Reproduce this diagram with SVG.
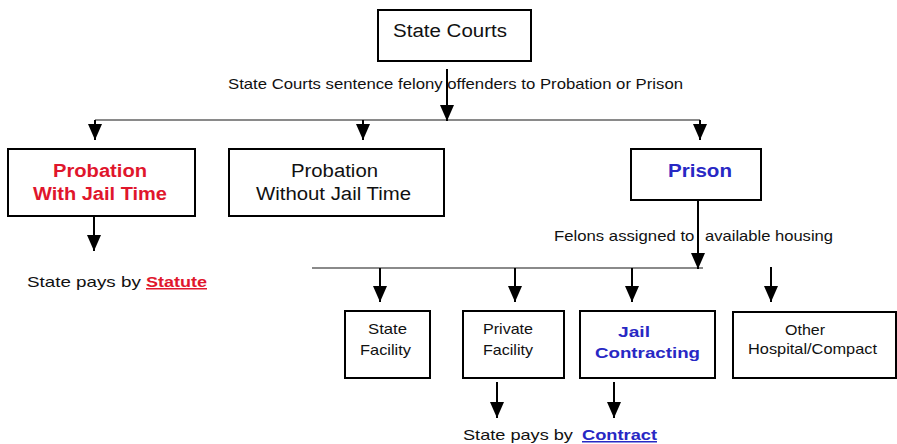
<svg xmlns="http://www.w3.org/2000/svg" width="897" height="444" viewBox="0 0 897 444">
<defs>
<marker id="ah" markerUnits="userSpaceOnUse" markerWidth="16" markerHeight="14" refX="16" refY="7" orient="auto">
<path d="M0,0 L16,7 L0,14 z" fill="#000"/>
</marker>
<style>
.box{fill:#fff;stroke:#000;stroke-width:2}
text{font-family:"Liberation Sans",Arial,sans-serif;fill:#111}
.t{font-size:15px}
.b{font-size:18px;font-weight:bold}
.m{font-size:18px}
.s{font-size:15px}
.red{fill:#e0162c}
.blue{fill:#2828c4}
.bus{stroke:#8a8a8a;stroke-width:2;fill:none}
.arr{stroke:#000;stroke-width:2;fill:none;marker-end:url(#ah)}
</style>
</defs>
<rect width="897" height="444" fill="#fff"/>
<g id="connectors">
<line class="bus" x1="95" y1="120" x2="700" y2="120"/>
<line class="arr" x1="447" y1="69" x2="447" y2="121"/>
<line class="arr" x1="95" y1="120" x2="95" y2="140"/>
<line class="arr" x1="363" y1="120" x2="363" y2="140"/>
<line class="arr" x1="700" y1="120" x2="700" y2="140"/>
<line class="arr" x1="94" y1="217" x2="94" y2="251"/>
<line class="bus" x1="312" y1="268" x2="703" y2="268"/>
<line class="arr" x1="698" y1="200" x2="698" y2="269"/>
<line class="arr" x1="380" y1="268" x2="380" y2="302"/>
<line class="arr" x1="515" y1="268" x2="515" y2="302"/>
<line class="arr" x1="632" y1="268" x2="632" y2="302"/>
<line class="arr" x1="771" y1="267" x2="771" y2="302"/>
<line class="arr" x1="497" y1="382" x2="497" y2="418"/>
<line class="arr" x1="614" y1="382" x2="614" y2="418"/>
<text class="t" x="228" y="89" textLength="455" lengthAdjust="spacingAndGlyphs">State Courts sentence felony offenders to Probation or Prison</text>
<text class="t" y="241"><tspan x="554" textLength="145" lengthAdjust="spacingAndGlyphs">Felons assigned to </tspan><tspan x="705" textLength="128" lengthAdjust="spacingAndGlyphs">available housing</tspan></text>
<text class="t" y="287"><tspan x="27" textLength="119" lengthAdjust="spacingAndGlyphs">State pays by </tspan><tspan x="146" textLength="61" lengthAdjust="spacingAndGlyphs" class="red" font-weight="bold" text-decoration="underline">Statute</tspan></text>
<text class="t" y="440"><tspan x="463" textLength="115" lengthAdjust="spacingAndGlyphs">State pays by </tspan><tspan x="582" textLength="75" lengthAdjust="spacingAndGlyphs" class="blue" font-weight="bold" text-decoration="underline">Contract</tspan></text>
</g>
<g id="state-courts">
<rect class="box" x="378" y="10" width="153" height="51"/>
<text class="m" font-size="19" x="393" y="37" textLength="114" lengthAdjust="spacingAndGlyphs">State Courts</text>
</g>
<g id="probation-with-jail">
<rect class="box" x="8" y="149" width="187" height="67"/>
<text class="b red" x="53" y="177" textLength="94" lengthAdjust="spacingAndGlyphs">Probation</text>
<text class="b red" x="33" y="200" textLength="134" lengthAdjust="spacingAndGlyphs">With Jail Time</text>
</g>
<g id="probation-without-jail">
<rect class="box" x="229" y="149" width="215" height="67"/>
<text class="m" x="291" y="177" textLength="87" lengthAdjust="spacingAndGlyphs">Probation</text>
<text class="m" x="256" y="200" textLength="155" lengthAdjust="spacingAndGlyphs">Without Jail Time</text>
</g>
<g id="prison">
<rect class="box" x="631" y="149" width="130" height="51"/>
<text class="b blue" x="668" y="177" textLength="64" lengthAdjust="spacingAndGlyphs">Prison</text>
</g>
<g id="state-facility">
<rect class="box" x="345" y="311" width="85" height="67"/>
<text class="s" x="368" y="334" textLength="39" lengthAdjust="spacingAndGlyphs">State</text>
<text class="s" x="360" y="355" textLength="51" lengthAdjust="spacingAndGlyphs">Facility</text>
</g>
<g id="private-facility">
<rect class="box" x="463" y="311" width="101" height="67"/>
<text class="s" x="483" y="334" textLength="50" lengthAdjust="spacingAndGlyphs">Private</text>
<text class="s" x="483" y="355" textLength="50" lengthAdjust="spacingAndGlyphs">Facility</text>
</g>
<g id="jail-contracting">
<rect class="box" x="580" y="311" width="135" height="67"/>
<text class="s blue" font-weight="bold" font-size="16" x="618" y="337" textLength="32" lengthAdjust="spacingAndGlyphs">Jail</text>
<text class="s blue" font-weight="bold" font-size="16" x="595" y="358" textLength="105" lengthAdjust="spacingAndGlyphs">Contracting</text>
</g>
<g id="other">
<rect class="box" x="733" y="312" width="163" height="66"/>
<text class="s" x="785" y="335" textLength="40" lengthAdjust="spacingAndGlyphs">Other</text>
<text class="s" x="748" y="354" textLength="129" lengthAdjust="spacingAndGlyphs">Hospital/Compact</text>
</g>
</svg>
